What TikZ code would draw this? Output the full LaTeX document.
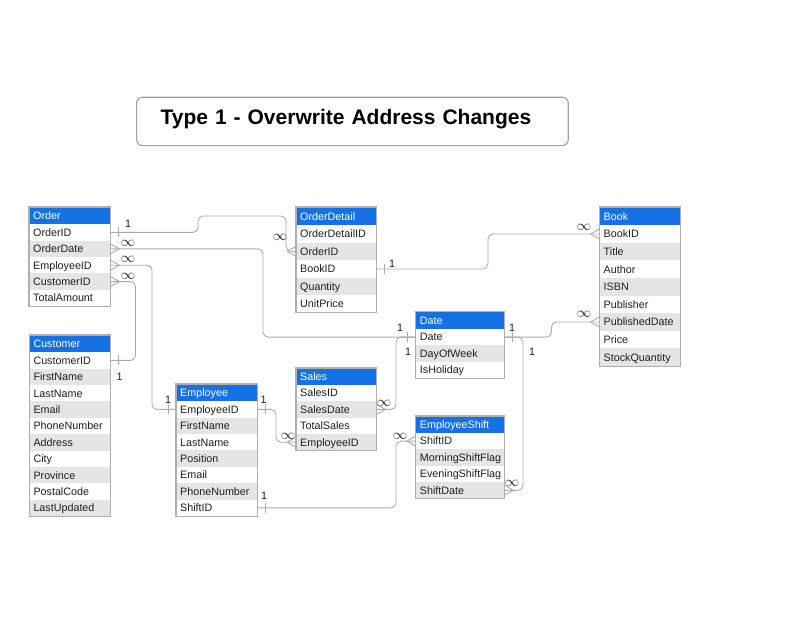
\documentclass[tikz,border=0pt]{standalone}
\usepackage{fontspec}
\setmainfont{Liberation Sans}
\usetikzlibrary{calc}
\definecolor{hdrblue}{RGB}{22,113,229}
\definecolor{rowgray}{RGB}{229,229,229}
\definecolor{linegray}{RGB}{170,170,170}
\definecolor{tblgray}{RGB}{175,175,175}
\definecolor{boxgray}{RGB}{160,160,160}
\definecolor{txt}{RGB}{30,30,30}
\newcommand{\tblfont}{\fontsize{10.75}{12}\selectfont}
\tikzset{
  cellbase/.style={anchor=north west, inner xsep=4pt, inner ysep=0pt,
    text height=7.7pt, text depth=0pt, align=left, font=\tblfont},
  hdrcell/.style={cellbase, fill=hdrblue, text=white},
  rowcell/.style={cellbase, text=txt},
  tblborder/.style={draw=tblgray, line width=1.1pt},
  conn/.style={draw=linegray, line width=0.9pt, rounded corners=5pt},
  endline/.style={draw=linegray, line width=0.9pt},
  lbl/.style={font=\tblfont, text=txt, inner sep=0pt},
  inflbl/.style={font=\fontsize{13.5}{14}\selectfont, text=txt, inner sep=0pt},
  titlebox/.style={anchor=north west, draw=boxgray, line width=1.1pt, rounded corners=6pt,
    inner xsep=24pt, inner ysep=0pt, text width=383.7pt, minimum height=48.3pt,
    align=left, text height=15pt, text depth=8.4pt,
    font=\fontsize{21}{24}\selectfont\bfseries, text=black}
}
% #1 name, #2 title, #3 x, #4 y, #5 width, #6 header h, #7 row h, #8 fields
\newcommand{\ertable}[8]{%
  \pgfmathsetmacro{\tw}{#5-8}%
  \node[hdrcell, text width=\tw pt, minimum height=#6] (#1) at (#3,#4) {#2};
  \foreach \f [count=\i] in {#8} {%
    \pgfmathsetmacro{\ry}{#4+#6+(\i-1)*#7}%
    \ifodd\i\def\rf{white}\else\def\rf{rowgray}\fi
    \node[rowcell, fill=\rf, text width=\tw pt, minimum height=#7] (#1-\f) at (#3,\ry) {\f};
    \xdef\lastrow{#1-\f}%
  }
  \draw[tblborder] (#1.north west) rectangle (\lastrow.south east);
}
\newcommand{\tickmark}[2]{\draw[endline] ($(#1)+(#2,-5)$) -- ($(#1)+(#2,5)$);}
\newcommand{\crowfoot}[2]{\draw[endline] ($(#1)+(#2,0)$) -- ($(#1)+(0,-5)$) ($(#1)+(#2,0)$) -- ($(#1)+(0,5)$);}
\begin{document}
\begin{tikzpicture}[x=1pt,y=-1pt]
\fill[white] (0,0) rectangle (800,618);
\useasboundingbox (0,0) rectangle (800,618);

\node[titlebox] (title) at (136,96.7) {Type 1 - Overwrite Address Changes};

\ertable{Order}{Order}{29}{207}{81}{17}{16.4}{OrderID,OrderDate,EmployeeID,CustomerID,TotalAmount}
\ertable{OrderDetail}{OrderDetail}{296}{207}{80}{18}{17.5}{OrderDetailID,OrderID,BookID,Quantity,UnitPrice}
\ertable{Book}{Book}{599.5}{207}{80.5}{18}{17.6}{BookID,Title,Author,ISBN,Publisher,PublishedDate,Price,StockQuantity}
\ertable{Customer}{Customer}{29.3}{335}{80.7}{17}{16.4}{CustomerID,FirstName,LastName,Email,PhoneNumber,Address,City,Province,PostalCode,LastUpdated}
\ertable{Employee}{Employee}{176}{384}{80.7}{17}{16.4}{EmployeeID,FirstName,LastName,Position,Email,PhoneNumber,ShiftID}
\ertable{Sales}{Sales}{296}{368}{80}{16.6}{16.4}{SalesID,SalesDate,TotalSales,EmployeeID}
\ertable{Date}{Date}{415.7}{311.7}{88.3}{17}{16.4}{Date,DayOfWeek,IsHoliday}
\ertable{EmployeeShift}{EmployeeShift}{415.7}{416}{88.3}{16.7}{16.4}{ShiftID,MorningShiftFlag,EveningShiftFlag,ShiftDate}

% connectors
\draw[conn] (Order-OrderID.east) -| (198,216) -- (286,216) |- (OrderDetail-OrderID.west);
\draw[conn] (OrderDetail-BookID.east) -| (488,0 |- Book-BookID.west) -- (Book-BookID.west);
\draw[conn] (Order-OrderDate.east) -| (263,0 |- Date-Date.west) -- (Date-Date.west);
\draw[conn] (Order-EmployeeID.east) -| (152,0 |- Employee-EmployeeID.west) -- (Employee-EmployeeID.west);
\draw[conn] (Order-CustomerID.east) -| (135.5,0 |- Customer-CustomerID.east) -- (Customer-CustomerID.east);
\draw[conn] (Date-Date.east) -| (551.5,0 |- Book-PublishedDate.west) -- (Book-PublishedDate.west);
\draw[conn] (Date-Date.east) -| (523,0 |- EmployeeShift-ShiftDate.east) -- (EmployeeShift-ShiftDate.east);
\draw[conn] (Sales-SalesDate.east) -| (396,0 |- Date-Date.west) -- (Date-Date.west);
\draw[conn] (Employee-EmployeeID.east) -| (276,0 |- Sales-EmployeeID.west) -- (Sales-EmployeeID.west);
\draw[conn] (Employee-ShiftID.east) -| (396,0 |- EmployeeShift-ShiftID.west) -- (EmployeeShift-ShiftID.west);

% one-side ticks
\tickmark{Order-OrderID.east}{8}
\tickmark{OrderDetail-BookID.east}{8}
\tickmark{Date-Date.west}{-8}
\tickmark{Employee-EmployeeID.west}{-8}
\tickmark{Customer-CustomerID.east}{8}
\tickmark{Date-Date.east}{8}
\tickmark{Employee-EmployeeID.east}{8}
\tickmark{Employee-ShiftID.east}{8}

% many-side crow's feet
\crowfoot{OrderDetail-OrderID.west}{-9}
\crowfoot{Book-BookID.west}{-9}
\crowfoot{Order-OrderDate.east}{9}
\crowfoot{Order-EmployeeID.east}{9}
\crowfoot{Order-CustomerID.east}{9}
\crowfoot{Book-PublishedDate.west}{-9}
\crowfoot{EmployeeShift-ShiftDate.east}{9}
\crowfoot{Sales-SalesDate.east}{9}
\crowfoot{Sales-EmployeeID.west}{-9}
\crowfoot{EmployeeShift-ShiftID.west}{-9}

% labels
\node[lbl] (n1) at (128,224) {1};
\node[lbl] (n2) at (392,263.5) {1};
\node[lbl] (n3) at (400,327.5) {1};
\node[lbl] (n4) at (408,352) {1};
\node[lbl] (n5) at (168,400) {1};
\node[lbl] (n6) at (119.5,376.5) {1};
\node[lbl] (n7) at (512,328) {1};
\node[lbl] (n8) at (532,352) {1};
\node[lbl] (n9) at (263.5,400) {1};
\node[lbl] (n10) at (264,496) {1};

\node[inflbl] (i1) at (280,237) {$\infty$};
\node[inflbl] (i2) at (584,227.5) {$\infty$};
\node[inflbl] (i3) at (128,243) {$\infty$};
\node[inflbl] (i4) at (128,259.5) {$\infty$};
\node[inflbl] (i5) at (128,276) {$\infty$};
\node[inflbl] (i6) at (584,314) {$\infty$};
\node[inflbl] (i7) at (512,483) {$\infty$};
\node[inflbl] (i8) at (384,403) {$\infty$};
\node[inflbl] (i9) at (288,436) {$\infty$};
\node[inflbl] (i10) at (400,436) {$\infty$};
\end{tikzpicture}
\end{document}
